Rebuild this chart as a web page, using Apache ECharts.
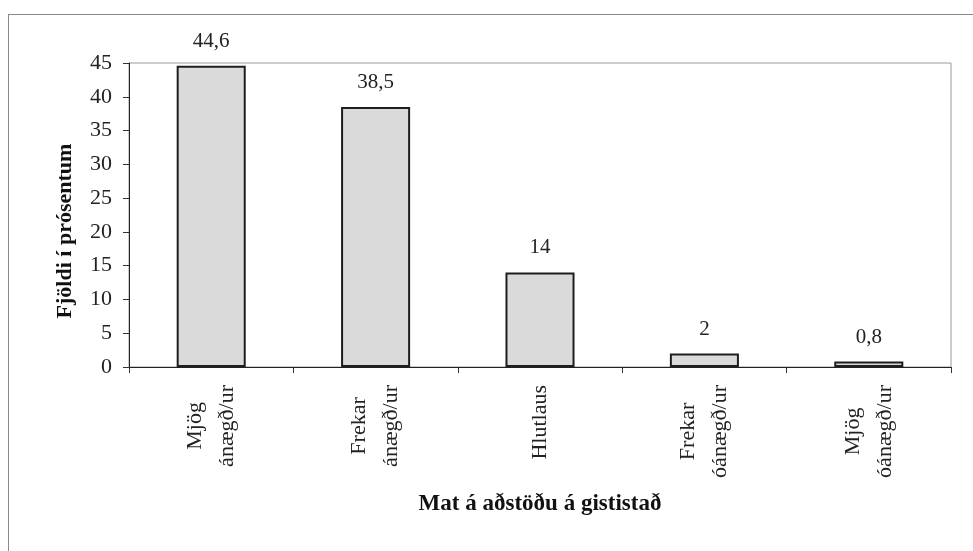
<!DOCTYPE html>
<html>
<head>
<meta charset="utf-8">
<script src="https://cdn.jsdelivr.net/npm/echarts@6/dist/echarts.min.js"></script>
<style>
  * { margin: 0; padding: 0; }
  body { background: #fff; }
  #frame {
    position: absolute; left: 8px; top: 14px; width: 965px; height: 537px;
    border-left: 1px solid #8a8a8a; border-top: 1px solid #8a8a8a;
  }
  #chart { position: absolute; left: 0; top: 0; width: 973px; height: 551px; }
</style>
</head>
<body>
<div id="frame"></div>
<div id="chart"></div>
<script>
  var categories = ['Mjög\nánægð/ur', 'Frekar\nánægð/ur', 'Hlutlaus', 'Frekar\nóánægð/ur', 'Mjög\nóánægð/ur']
  var values = [44.6, 38.5, 14, 2, 0.8]
  var yTitle = 'Fjöldi í prósentum'
  var xTitle = 'Mat á aðstöðu á gististað'

  var serif = '"Liberation Serif", "DejaVu Serif", serif'
  var myChart = echarts.init(document.getElementById('chart'), null, { renderer: 'canvas' })

  var option = {
    animation: false,
    grid: {
      left: 129, right: 22, top: 63, bottom: 184,
      show: true, borderColor: '#9a9a9a', borderWidth: 1
    },
    xAxis: {
      type: 'category',
      data: categories,
      name: xTitle,
      nameLocation: 'middle',
      nameGap: 126,
      nameTextStyle: { fontFamily: serif, fontWeight: 'bold', fontSize: 23, color: '#111' },
      axisLine: { lineStyle: { color: '#222', width: 1 } },
      axisTick: { show: true, length: 6, lineStyle: { color: '#333' } },
      axisLabel: {
        rotate: 90, margin: 18, interval: 0,
        formatter: function (v) {
          return v.split('\n').map(function (s) { return '{c|' + s + '}' }).join('\n')
        },
        rich: {
          c: { fontFamily: serif, fontSize: 22, color: '#222', lineHeight: 32, align: 'center' }
        }
      }
    },
    yAxis: {
      type: 'value',
      min: 0, max: 45, interval: 5,
      name: yTitle,
      nameLocation: 'middle',
      nameGap: 53,
      nameRotate: 90,
      nameTextStyle: {
        fontFamily: serif, fontWeight: 'bold', fontSize: 22, color: '#111',
        padding: [0, 32, 0, 0]
      },
      axisLine: { show: true, lineStyle: { color: '#222', width: 1 } },
      axisTick: { show: true, length: 6, lineStyle: { color: '#333' } },
      axisLabel: { fontFamily: serif, fontSize: 22, color: '#222', margin: 17 },
      splitLine: { show: false }
    },
    series: [
      {
        type: 'bar',
        data: values,
        barWidth: '42%',
        itemStyle: { color: '#dadada', borderColor: '#1e1e1e', borderWidth: 2 },
        label: {
          show: true,
          position: 'top',
          distance: 14,
          fontFamily: serif,
          fontSize: 21,
          color: '#222',
          formatter: function (p) { return String(p.value).replace('.', ',') }
        }
      }
    ]
  }
  myChart.setOption(option)
</script>
</body>
</html>
